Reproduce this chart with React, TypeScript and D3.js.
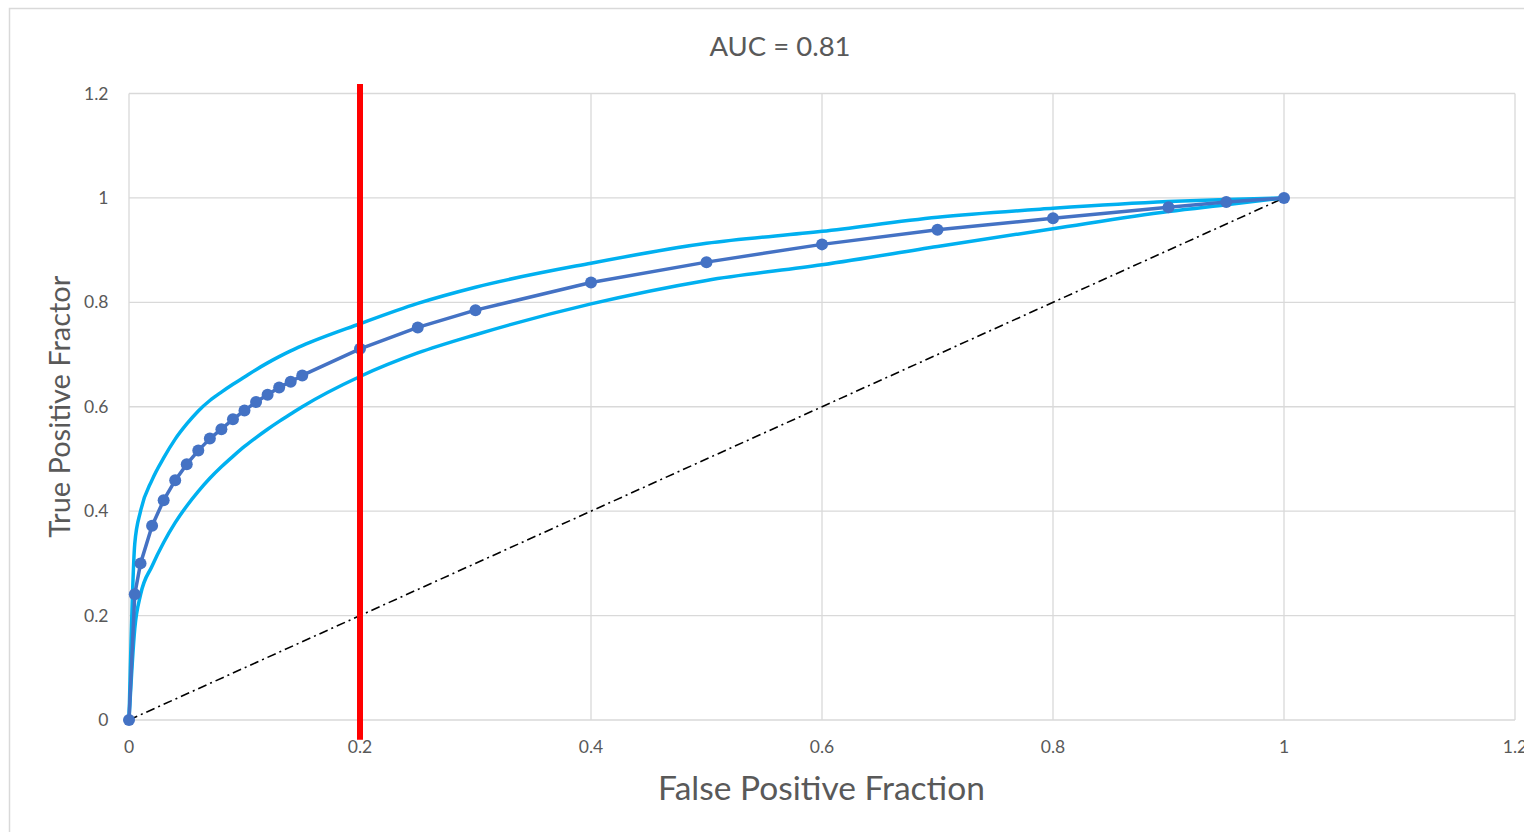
import React from "react";
import * as d3 from "d3";

// False positive fractions at which the curves are sampled
const fpf: number[] = [
  0, 0.005, 0.01, 0.02, 0.03, 0.04, 0.05, 0.06, 0.07, 0.08, 0.09, 0.1, 0.11,
  0.12, 0.13, 0.14, 0.15, 0.2, 0.25, 0.3, 0.4, 0.5, 0.6, 0.7, 0.8, 0.9, 0.95, 1,
];

// Fitted ROC curve (true positive fraction)
const tpf: number[] = [
  0, 0.241, 0.3, 0.372, 0.421, 0.459, 0.49, 0.516, 0.539, 0.557, 0.576, 0.593,
  0.609, 0.623, 0.637, 0.648, 0.66, 0.711, 0.752, 0.785, 0.838, 0.877, 0.911,
  0.939, 0.961, 0.982, 0.992, 1,
];

// Upper confidence bound
const tpfUpper: number[] = [
  0, 0.338, 0.4, 0.46, 0.502, 0.538, 0.567, 0.592, 0.612, 0.628, 0.643, 0.657,
  0.671, 0.684, 0.696, 0.707, 0.717, 0.759, 0.798, 0.829, 0.875, 0.913, 0.936,
  0.963, 0.98, 0.993, 0.997, 1,
];

// Lower confidence bound
const tpfLower: number[] = [
  0, 0.175, 0.24, 0.295, 0.34, 0.378, 0.41, 0.438, 0.463, 0.485, 0.505, 0.524,
  0.541, 0.557, 0.572, 0.586, 0.6, 0.658, 0.703, 0.738, 0.797, 0.842, 0.872,
  0.907, 0.941, 0.974, 0.987, 1,
];

// Chance diagonal
const chanceX: number[] = [0, 1];
const chanceY: number[] = [0, 1];

// Operating threshold marker
const thresholdX = 0.2;
const thresholdYExtent: number[] = [-0.038, 1.218];

const xTicks: number[] = [0, 0.2, 0.4, 0.6, 0.8, 1, 1.2];
const yTicks: number[] = [0, 0.2, 0.4, 0.6, 0.8, 1, 1.2];

const title = "AUC = 0.81";
const xTitle = "False Positive Fraction";
const yTitle = "True Positive Fractor";

const W = 1524;
const H = 832;
const M = { left: 129, right: 1515, top: 93.5, bottom: 720 };
const FONT = "Lato, 'Open Sans', 'DejaVu Sans', sans-serif";

export default function App() {
  const x = d3.scaleLinear().domain([0, 1.2]).range([M.left, M.right]);
  const y = d3.scaleLinear().domain([0, 1.2]).range([M.bottom, M.top]);

  const line = d3
    .line<[number, number]>()
    .x((d) => x(d[0]))
    .y((d) => y(d[1]));
  const smooth = d3
    .line<[number, number]>()
    .x((d) => x(d[0]))
    .y((d) => y(d[1]))
    .curve(d3.curveMonotoneX);

  const pts = (ys: number[]) => fpf.map((v, i) => [v, ys[i]] as [number, number]);
  const fmt = (v: number) => (v === 0 ? "0" : d3.format("~g")(v));

  return (
    <svg
      width={W}
      height={H}
      style={{ position: "absolute", left: 0, top: 0, display: "block", background: "#fff" }}
      fontFamily={FONT}
    >
      <rect x={9.5} y={8.5} width={W + 20} height={H + 20} fill="#fff" stroke="#D9D9D9" strokeWidth={1.5} />

      {/* gridlines */}
      {yTicks.map((t) => (
        <line key={"gy" + t} x1={M.left} x2={M.right} y1={y(t)} y2={y(t)} stroke="#D9D9D9" strokeWidth={1.3} />
      ))}
      {xTicks.map((t) => (
        <line key={"gx" + t} x1={x(t)} x2={x(t)} y1={M.top} y2={M.bottom} stroke="#D9D9D9" strokeWidth={1.3} />
      ))}

      {/* tick labels */}
      {yTicks.map((t) => (
        <text key={"ty" + t} x={108.5} y={y(t)} dy="0.35em" textAnchor="end" fontSize={17.5} fill="#595959">
          {fmt(t)}
        </text>
      ))}
      {xTicks.map((t) => (
        <text key={"tx" + t} x={x(t)} y={746.5} dy="0.35em" textAnchor="middle" fontSize={17.5} fill="#595959">
          {fmt(t)}
        </text>
      ))}

      {/* chance diagonal */}
      <path
        d={line(chanceX.map((v, i) => [v, chanceY[i]] as [number, number])) || ""}
        fill="none"
        stroke="#000"
        strokeWidth={1.6}
        strokeDasharray="9 4 2 4"
      />

      {/* confidence bounds */}
      <path d={smooth(pts(tpfUpper)) || ""} fill="none" stroke="#00B0F0" strokeWidth={3.5} strokeLinejoin="round" />
      <path d={smooth(pts(tpfLower)) || ""} fill="none" stroke="#00B0F0" strokeWidth={3.5} strokeLinejoin="round" />

      {/* fitted ROC curve */}
      <path d={line(pts(tpf)) || ""} fill="none" stroke="#4472C4" strokeWidth={3.5} strokeLinejoin="round" />
      {fpf.map((v, i) => (
        <circle key={"p" + i} cx={x(v)} cy={y(tpf[i])} r={6} fill="#4472C4" />
      ))}

      {/* threshold */}
      <line
        x1={x(thresholdX)}
        x2={x(thresholdX)}
        y1={y(thresholdYExtent[0])}
        y2={y(thresholdYExtent[1])}
        stroke="#FF0000"
        strokeWidth={6}
      />

      {/* titles */}
      <text x={780} y={46} dy="0.35em" textAnchor="middle" fontSize={27.5} fill="#595959">
        {title}
      </text>
      <text x={821.5} y={788} dy="0.35em" textAnchor="middle" fontSize={33.5} fill="#595959">
        {xTitle}
      </text>
      <text
        transform={`translate(60,${(M.top + M.bottom) / 2}) rotate(-90)`}
        dy="0.35em"
        textAnchor="middle"
        fontSize={29}
        fill="#595959"
      >
        {yTitle}
      </text>
    </svg>
  );
}
